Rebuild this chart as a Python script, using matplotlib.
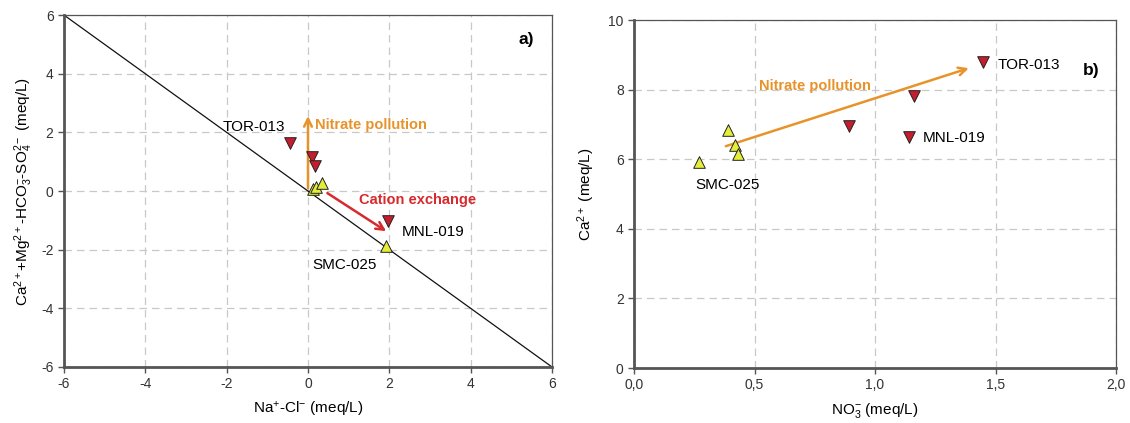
import matplotlib
matplotlib.use("Agg")
import matplotlib.pyplot as plt

plt.rcParams['font.family'] = ['Liberation Sans', 'DejaVu Sans']
plt.rcParams['axes.unicode_minus'] = False
plt.rcParams['mathtext.fontset'] = 'custom'
plt.rcParams['mathtext.rm'] = 'Liberation Sans'
plt.rcParams['mathtext.it'] = 'Liberation Sans:italic'
plt.rcParams['mathtext.bf'] = 'Liberation Sans:bold'

# Panel a: Na-Cl excess vs. (Ca+Mg) - (HCO3+SO4), meq/L
a_red_x = [-0.43, 0.10, 0.18, 1.97]
a_red_y = [1.63, 1.15, 0.87, -1.02]
a_yel_x = [0.12, 0.20, 0.35, 1.93]
a_yel_y = [0.08, 0.15, 0.28, -1.87]

# Panel b: NO3 vs Ca, meq/L
b_red_x = [0.89, 1.14, 1.16, 1.45]
b_red_y = [6.95, 6.64, 7.81, 8.80]
b_yel_x = [0.27, 0.39, 0.42, 0.43]
b_yel_y = [5.92, 6.83, 6.40, 6.16]

a_ticks = [-6, -4, -2, 0, 2, 4, 6]
b_xticks = [0.0, 0.5, 1.0, 1.5, 2.0]
b_xticklabels = ['0,0', '0,5', '1,0', '1,5', '2,0']
b_yticks = [0, 2, 4, 6, 8, 10]

RED = '#C41E2E'
YEL = '#E4EE3A'
ORANGE = '#E8932A'
ARROW_RED = '#D82A2E'
SPINE = '#555555'

fig = plt.figure(figsize=(11.3, 4.23), dpi=100)
ax1 = fig.add_axes([0.0566, 0.1324, 0.4319, 0.832])
ax2 = fig.add_axes([0.5611, 0.1300, 0.4265, 0.8227])


def style(ax):
    ax.grid(True, color='#C8C8C8', linestyle=(0, (6, 4)), linewidth=0.9)
    ax.set_axisbelow(True)
    for s in ['left', 'bottom']:
        ax.spines[s].set_linewidth(2.0)
        ax.spines[s].set_color(SPINE)
    for s in ['top', 'right']:
        ax.spines[s].set_linewidth(0.9)
        ax.spines[s].set_color(SPINE)
    ax.tick_params(direction='out', length=4, width=1, color=SPINE,
                   labelsize=10, labelcolor='#333333')


mk = dict(s=70, edgecolors='#222222', linewidths=0.7, zorder=4)

# ---- Panel a ----
style(ax1)
ax1.set_xlim(-6, 6)
ax1.set_ylim(-6, 6)
ax1.set_xticks(a_ticks)
ax1.set_yticks(a_ticks)
ax1.plot([-6, 6], [6, -6], color='#111111', linewidth=0.9, zorder=2)
ax1.annotate('', xy=(0, 2.65), xytext=(0, 0),
             arrowprops=dict(arrowstyle='->', color=ORANGE, lw=1.8,
                             mutation_scale=14), zorder=3)
ax1.annotate('', xy=(1.98, -1.42), xytext=(0.42, -0.02),
             arrowprops=dict(arrowstyle='->', color=ARROW_RED, lw=1.8,
                             mutation_scale=14), zorder=3)
ax1.scatter(a_red_x, a_red_y, marker='v', color=RED, **mk)
ax1.scatter(a_yel_x, a_yel_y, marker='^', color=YEL, **mk)
ax1.text(0.18, 2.25, 'Nitrate pollution', color=ORANGE, fontsize=10.5,
         fontweight='bold', va='center', ha='left')
ax1.text(1.25, -0.3, 'Cation exchange', color=ARROW_RED, fontsize=10.5,
         fontweight='bold', va='center', ha='left')
ax1.text(-2.1, 2.2, 'TOR-013', fontsize=11, va='center', ha='left')
ax1.text(2.3, -1.39, 'MNL-019', fontsize=11, va='center', ha='left')
ax1.text(0.1, -2.53, 'SMC-025', fontsize=11, va='center', ha='left')
ax1.text(5.55, 5.15, 'a)', fontsize=12.5, fontweight='bold', ha='right', va='center')
ax1.set_xlabel(r'Na$^{+}$-Cl$^{-}$ (meq/L)', fontsize=11, labelpad=6)
ax1.set_ylabel(r'Ca$^{2+}$+Mg$^{2+}$-HCO$_3^{-}$-SO$_4^{2-}$ (meq/L)',
               fontsize=11, labelpad=4)

# ---- Panel b ----
style(ax2)
ax2.set_xlim(0, 2)
ax2.set_ylim(0, 10)
ax2.set_xticks(b_xticks)
ax2.set_xticklabels(b_xticklabels)
ax2.set_yticks(b_yticks)
ax2.annotate('', xy=(1.40, 8.64), xytext=(0.37, 6.35),
             arrowprops=dict(arrowstyle='->', color=ORANGE, lw=1.8,
                             mutation_scale=14), zorder=3)
ax2.scatter(b_red_x, b_red_y, marker='v', color=RED, **mk)
ax2.scatter(b_yel_x, b_yel_y, marker='^', color=YEL, **mk)
ax2.text(0.75, 8.1, 'Nitrate pollution', color=ORANGE, fontsize=10.5,
         fontweight='bold', va='center', ha='center')
ax2.text(1.51, 8.7, 'TOR-013', fontsize=11, va='center', ha='left')
ax2.text(1.20, 6.6, 'MNL-019', fontsize=11, va='center', ha='left')
ax2.text(0.255, 5.25, 'SMC-025', fontsize=11, va='center', ha='left')
ax2.text(1.93, 8.55, 'b)', fontsize=12.5, fontweight='bold', ha='right', va='center')
ax2.set_xlabel(r'NO$_3^{-}$ (meq/L)', fontsize=11, labelpad=6)
ax2.set_ylabel(r'Ca$^{2+}$ (meq/L)', fontsize=11, labelpad=8)

fig.savefig('out.png', dpi=100)
